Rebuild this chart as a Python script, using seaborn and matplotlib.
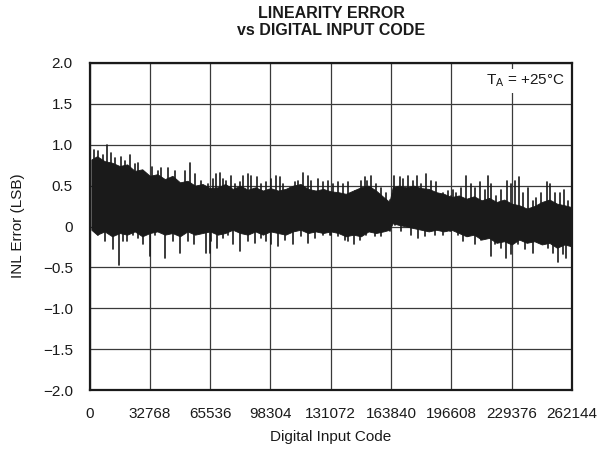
import numpy as np
import pandas as pd
import matplotlib
matplotlib.use("Agg")
import matplotlib.pyplot as plt
import seaborn as sns

# ---- data ----
# upper peaks of the INL trace (code, LSB)
hi_code = [2445, 4618, 7335, 9680, 11850, 13690, 17290, 19100, 21830, 24550, 26350, 29980,
           34130, 37220, 39030, 42650, 46290, 49000, 51720, 54440, 57160, 60760, 64380,
           67100, 68900, 70740, 72530, 74320, 76710, 78890, 81600, 83400, 86110, 87910,
           91170, 93340, 96060, 98780, 101500, 103300, 105100, 108800, 111500, 113300,
           116000, 118700, 120500, 124100, 126900, 129600,
           132300, 135000, 137700, 140400, 144100, 147700, 149500, 150900, 153100, 155800,
           158500, 161300, 163100, 165400, 168500, 170300, 173000, 175800, 178100, 180300,
           182700, 185700, 188400, 192100, 194800, 196600,
           197500, 199300, 202000, 204700, 207400, 209600, 212000, 214700, 216500, 218300,
           221000, 223700, 226800, 229200, 231000, 233200, 235500, 238200, 240900, 242700,
           245500, 248700, 250000, 252700, 255500, 257800, 260000]
hi_inl = [0.94, 0.92, 0.88, 1.00, 0.90, 0.84, 0.85, 0.80, 0.88, 0.76, 0.78, 0.66,
          0.73, 0.68, 0.72, 0.71, 0.68, 0.52, 0.68, 0.78, 0.64, 0.56, 0.52,
          0.58, 0.64, 0.66, 0.58, 0.56, 0.62, 0.52, 0.54, 0.62, 0.64, 0.62,
          0.60, 0.52, 0.54, 0.58, 0.62, 0.60, 0.52, 0.47, 0.54, 0.56,
          0.65, 0.62, 0.56, 0.58, 0.54, 0.56,
          0.52, 0.54, 0.52, 0.54, 0.43, 0.56, 0.60, 0.56, 0.62, 0.52,
          0.47, 0.41, 0.33, 0.62, 0.60, 0.58, 0.62, 0.56, 0.62, 0.52,
          0.64, 0.56, 0.54, 0.41, 0.43, 0.37,
          0.45, 0.41, 0.47, 0.62, 0.52, 0.47, 0.54, 0.45, 0.62, 0.52,
          0.37, 0.45, 0.56, 0.52, 0.56, 0.60, 0.41, 0.47, 0.31, 0.35,
          0.41, 0.54, 0.52, 0.41, 0.41, 0.45, 0.31]

# lower peaks of the INL trace (code, LSB)
lo_code = [2810, 4620, 8250, 12770, 16030, 18200, 20560, 23630, 26350, 29070, 32700,
           35420, 40850, 45370, 49000, 53350, 56940, 63460, 66170,
           65300, 69430, 72530, 75250, 77960, 81600, 86110, 89750, 93340, 96060, 98780,
           102400, 106100, 110600, 115100, 118700, 122400, 126900, 130500,
           131400, 135000, 138600, 140400, 143700, 146800, 150400, 154900, 158500, 163100,
           165800, 169400, 174800, 178500, 182100, 187500, 192100, 195700,
           196600, 200200, 202900, 205600, 209300, 212900, 218000, 220100, 223700, 226400,
           229200, 232800, 236400, 240900, 245500, 249100, 251800, 254500, 257300, 259000]
lo_inl = [-0.02, -0.10, -0.18, -0.28, -0.47, -0.18, -0.18, -0.10, -0.14, -0.22, -0.36,
          -0.10, -0.38, -0.18, -0.32, -0.18, -0.22, -0.32, -0.18,
          -0.32, -0.26, -0.14, -0.10, -0.22, -0.30, -0.18, -0.20, -0.14, -0.18, -0.22,
          -0.24, -0.16, -0.22, -0.12, -0.20, -0.14, -0.10, -0.10,
          -0.10, -0.12, -0.16, -0.18, -0.22, -0.16, -0.10, -0.12, -0.12, -0.06,
          0.02, -0.06, -0.10, -0.14, -0.12, -0.10, -0.10, -0.06,
          -0.06, -0.10, -0.18, -0.12, -0.22, -0.16, -0.36, -0.22, -0.26, -0.38,
          -0.34, -0.22, -0.28, -0.32, -0.18, -0.26, -0.32, -0.43, -0.34, -0.38]

# dense core of the trace (code, top, bottom)
core_code = [1000, 4096, 8192, 12288, 16384, 20480, 24576, 28672, 32768, 36864,
             40960, 45056, 49152, 53248, 57344, 61440, 65536, 69632, 73728, 77824,
             81920, 86016, 90112, 94208, 98304, 102400, 106496, 110592, 114688, 118784,
             122880, 126976, 131072, 135168, 139264, 143360, 147456, 151552, 155648, 159744,
             163000, 164700, 167936, 172032, 176128, 180224, 184320, 188416, 192512, 196608,
             200704, 204800, 208896, 212992, 217088, 221184, 225280, 229376, 233472, 237568,
             241664, 245760, 249856, 253952, 258048, 261500]
core_top = [0.82, 0.86, 0.80, 0.78, 0.74, 0.76, 0.68, 0.70, 0.62, 0.64,
            0.58, 0.62, 0.54, 0.56, 0.50, 0.52, 0.47, 0.48, 0.52, 0.46,
            0.50, 0.45, 0.48, 0.44, 0.47, 0.44, 0.46, 0.50, 0.52, 0.46,
            0.44, 0.46, 0.43, 0.42, 0.40, 0.44, 0.48, 0.50, 0.44, 0.36,
            0.30, 0.48, 0.50, 0.48, 0.50, 0.47, 0.46, 0.42, 0.40, 0.36,
            0.38, 0.34, 0.37, 0.32, 0.35, 0.30, 0.33, 0.28, 0.26, 0.22,
            0.25, 0.30, 0.33, 0.28, 0.26, 0.24]
core_bot = [-0.04, -0.10, -0.06, -0.12, -0.08, -0.10, -0.06, -0.12, -0.08, -0.06,
            -0.10, -0.08, -0.12, -0.06, -0.10, -0.08, -0.06, -0.10, -0.08, -0.04,
            -0.08, -0.10, -0.06, -0.10, -0.06, -0.08, -0.10, -0.06, -0.04, -0.08,
            -0.06, -0.08, -0.06, -0.08, -0.12, -0.10, -0.12, -0.06, -0.08, -0.06,
            -0.04, 0.04, 0.02, 0.00, -0.02, -0.04, -0.06, -0.04, -0.06, -0.04,
            -0.08, -0.12, -0.10, -0.16, -0.14, -0.20, -0.18, -0.22, -0.16, -0.20,
            -0.18, -0.22, -0.20, -0.26, -0.22, -0.24]

x_ticks = [0, 32768, 65536, 98304, 131072, 163840, 196608, 229376, 262144]
y_ticks = [-2.0, -1.5, -1.0, -0.5, 0, 0.5, 1.0, 1.5, 2.0]
y_tick_labels = ["\u22122.0", "\u22121.5", "\u22121.0", "\u22120.5", "0", "0.5", "1.0", "1.5", "2.0"]

title = "LINEARITY ERROR\nvs DIGITAL INPUT CODE"
x_label = "Digital Input Code"
y_label = "INL Error (LSB)"
note = r"T$_{\mathregular{A}}$ = +25°C"

# ---- spikes as individual vertical segments (base inside the dense core) ----
spike_code = hi_code + lo_code
spike_peak = hi_inl + lo_inl
base = 0.15
spikes = pd.DataFrame({
    "code": [c for c in spike_code for _ in range(2)],
    "inl": [v for p in spike_peak for v in (base, p)],
    "spike": [i for i in range(len(spike_code)) for _ in range(2)],
})

sns.set_theme(style="white")
plt.rcParams["font.family"] = ["Liberation Sans", "DejaVu Sans"]
plt.rcParams["mathtext.fontset"] = "custom"
plt.rcParams["mathtext.rm"] = "Liberation Sans"

fig = plt.figure(figsize=(6.02, 4.5), dpi=100)
ax = fig.add_axes([89.5 / 602, 1 - 390 / 450, (572 - 89.5) / 602, (390 - 63) / 450])

ink = "#1a1a1a"
ax.fill_between(core_code, core_bot, core_top, color=ink, lw=0.6, edgecolor=ink, zorder=3)
sns.lineplot(data=spikes, x="code", y="inl", units="spike", estimator=None, sort=False,
             color=ink, lw=1.2, ax=ax, zorder=4)

ax.set_xlim(0, 262144)
ax.set_ylim(-2.0, 2.0)
ax.set_xticks(x_ticks)
ax.set_xticklabels([str(t) for t in x_ticks])
ax.set_yticks(y_ticks)
ax.set_yticklabels(y_tick_labels)
ax.tick_params(axis="both", length=0, labelsize=11, colors=ink)
ax.tick_params(axis="x", pad=12)
ax.tick_params(axis="y", pad=12)
ax.set_xlabel("")
ax.set_ylabel("")

ax.grid(True, color="#3a3a3a", lw=0.9)
ax.set_axisbelow(True)
for s in ax.spines.values():
    s.set_color(ink)
    s.set_linewidth(1.6)
    s.set_zorder(6)

ax.text(0.985, 0.945, note, transform=ax.transAxes, ha="right", va="center",
        fontsize=11, color=ink, zorder=7,
        bbox=dict(facecolor="white", edgecolor="none", pad=2.5))

fig.text(331 / 602, 1 - 22 / 450, title, ha="center", va="center",
         fontsize=11.5, fontweight="bold", color=ink, linespacing=1.2)
fig.text(331 / 602, 1 - 437 / 450, x_label, ha="center", va="center",
         fontsize=11, color=ink)
fig.text(18 / 602, 1 - 226 / 450, y_label, ha="center", va="center",
         rotation=90, fontsize=11, color=ink)

fig.savefig("out.png", dpi=100, facecolor="white")
